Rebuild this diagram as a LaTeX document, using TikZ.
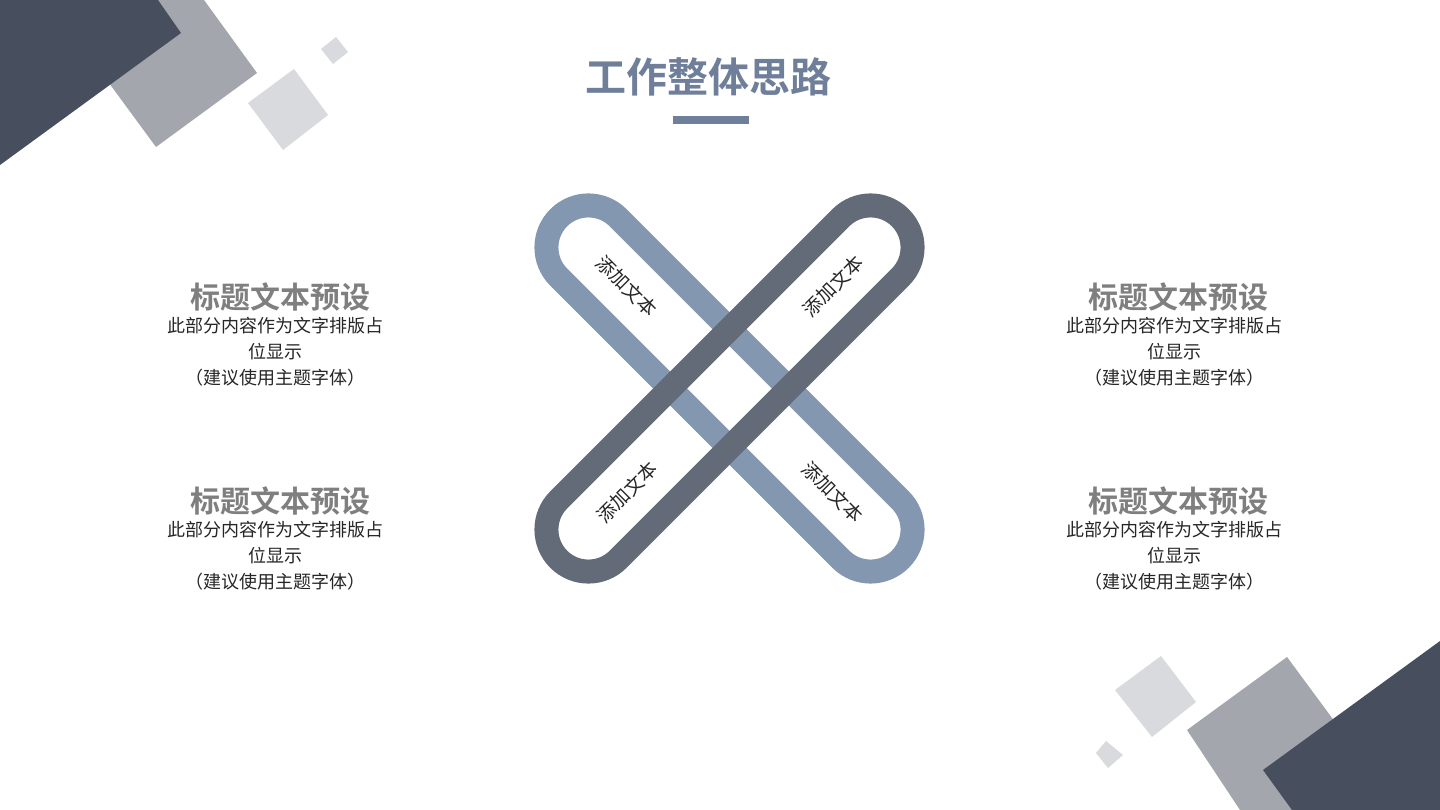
\documentclass[tikz,border=0pt]{standalone}
\usepackage{fontspec}
\newfontfamily\cjk{Noto Sans CJK SC}[BoldFont={Noto Sans CJK SC Bold}]
\definecolor{cdark}{HTML}{474E5D}
\definecolor{cgray}{HTML}{A3A6AD}
\definecolor{clight}{HTML}{D9DADE}
\definecolor{bandblue}{HTML}{8497B0}
\definecolor{banddark}{HTML}{636A78}
\definecolor{titleblue}{HTML}{6F7F99}
\definecolor{subgray}{HTML}{7F7F7F}
\definecolor{bodytext}{HTML}{262626}
\tikzset{
  band/.style={line width=24pt, rounded corners=42pt},
  bandtext/.style={font=\cjk\fontsize{19}{22}\selectfont, text=bodytext, inner sep=0pt},
  headtext/.style={font=\cjk\bfseries\fontsize{30}{34}\selectfont, text=subgray, inner sep=0pt},
  bodyline/.style={font=\cjk\fontsize{18}{20}\selectfont, text=bodytext, inner sep=0pt},
}
\begin{document}
\begin{tikzpicture}[x=1pt,y=-1pt]
\useasboundingbox (0,0) rectangle (1440,810);
\fill[white] (0,0) rectangle (1440,810);
% top-left decoration
\fill[clight] (294,69) -- (328,115) -- (283,150) -- (248,103) -- cycle;
\fill[clight] (336,37) -- (348,52) -- (333,64) -- (321,49) -- cycle;
\fill[cgray] (48,0) -- (204,0) -- (257,73) -- (156,147) -- cycle;
\fill[cdark] (0,0) -- (158,0) -- (181,33) -- (0,165) -- cycle;
% bottom-right decoration
\fill[clight] (1161,656) -- (1196,702) -- (1152,737) -- (1115,690) -- cycle;
\fill[clight] (1106,741) -- (1123,755) -- (1108,768) -- (1096,753) -- cycle;
\fill[cgray] (1287,657) -- (1400,810) -- (1240,810) -- (1187,730) -- cycle;
\fill[cdark] (1440,641) -- (1263,770) -- (1292,810) -- (1440,810) -- cycle;
% title
\node[font=\cjk\bfseries\fontsize{41}{46}\selectfont, text=titleblue, inner sep=0pt] (title) at (708,77) {工作整体思路};
\fill[titleblue] (673,116) rectangle (749,124);
% X bands
\draw[band, draw=bandblue, rotate around={-45:(729.5,388.5)}] (488,346.5) rectangle (971,430.5);
\draw[band, draw=banddark, rotate around={45:(729.5,388.5)}] (488,346.5) rectangle (971,430.5);
\node[bandtext, rotate=-45] (t1) at (627,286) {添加文本};
\node[bandtext, rotate=45] (t2) at (833,286) {添加文本};
\node[bandtext, rotate=45] (t3) at (627,492) {添加文本};
\node[bandtext, rotate=-45] (t4) at (833,492) {添加文本};
% left blocks
\node[headtext] (h1) at (280,297) {标题文本预设};
\node[bodyline] (b1a) at (275,326) {此部分内容作为文字排版占};
\node[bodyline] (b1b) at (275,352) {位显示};
\node[bodyline] (b1c) at (275,378) {（建议使用主题字体）};
\node[headtext] (h2) at (280,501) {标题文本预设};
\node[bodyline] (b2a) at (275,530) {此部分内容作为文字排版占};
\node[bodyline] (b2b) at (275,556) {位显示};
\node[bodyline] (b2c) at (275,582) {（建议使用主题字体）};
% right blocks
\node[headtext] (h3) at (1178,297) {标题文本预设};
\node[bodyline] (b3a) at (1174,326) {此部分内容作为文字排版占};
\node[bodyline] (b3b) at (1174,352) {位显示};
\node[bodyline] (b3c) at (1174,378) {（建议使用主题字体）};
\node[headtext] (h4) at (1178,501) {标题文本预设};
\node[bodyline] (b4a) at (1174,530) {此部分内容作为文字排版占};
\node[bodyline] (b4b) at (1174,556) {位显示};
\node[bodyline] (b4c) at (1174,582) {（建议使用主题字体）};
\end{tikzpicture}
\end{document}
